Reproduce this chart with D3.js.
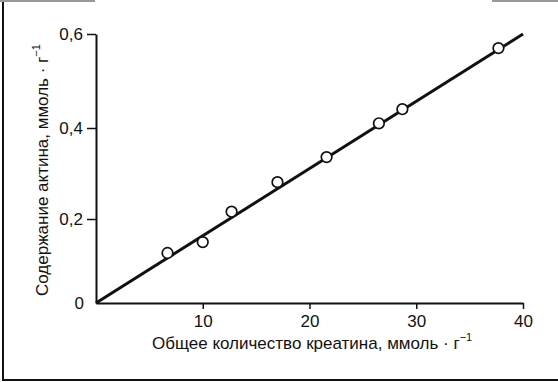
<!DOCTYPE html>
<html>
<head>
<meta charset="utf-8">
<script src="https://cdn.jsdelivr.net/npm/d3@7"></script>
<style>
  body { margin: 0; background: #fff; }
  svg { display: block; }
  text { font-family: Arial, "Liberation Sans", Helvetica, sans-serif; fill: #111; }
</style>
</head>
<body>
<svg id="chart"></svg>
<script>
// data
const creatine = [6.7, 10.0, 12.7, 17.0, 21.6, 26.5, 28.7, 37.7]
const actin = [0.119, 0.145, 0.216, 0.281, 0.336, 0.41, 0.44, 0.57]
const fitLine = [[0, 0], [40, 0.6]]
const xTicks = [10, 20, 30, 40]
const yTicks = [0, 0.2, 0.4, 0.6]
const xTitle = 'Общее количество креатина, ммоль · г'
const yTitle = 'Содержание актина, ммоль · г'

const width = 558, height = 382

const svg = d3.select('#chart')
  .attr('width', width)
  .attr('height', height)

// scanned frame
svg.append('line').attr('x1', 3).attr('x2', 3).attr('y1', 0).attr('y2', 381)
  .attr('stroke', '#111').attr('stroke-width', 2)
svg.append('line').attr('x1', 2).attr('x2', 558).attr('y1', 380).attr('y2', 380)
  .attr('stroke', '#111').attr('stroke-width', 2)
svg.append('line').attr('x1', 0).attr('x2', 95).attr('y1', 1).attr('y2', 1)
  .attr('stroke', '#999').attr('stroke-width', 2)
svg.append('line').attr('x1', 492).attr('x2', 558).attr('y1', 1).attr('y2', 1)
  .attr('stroke', '#999').attr('stroke-width', 2)

// x scale
const x = d3.scaleLinear()
  .domain([0, 40])
  .range([96, 523])

// y scale (the scanned figure is slightly uneven, so use the tick positions)
const y = d3.scaleLinear()
  .domain(yTicks)
  .range([303, 219, 128, 34])

const fmt = d => String(d).replace('.', ',')

// x axis
const gx = svg.append('g')
  .attr('transform', 'translate(0,' + y(0) + ')')
  .call(d3.axisBottom(x).tickValues(xTicks).tickSize(6).tickSizeOuter(0).tickPadding(6))
gx.select('.domain').attr('stroke', '#111').attr('stroke-width', 2)
gx.selectAll('.tick line').attr('stroke', '#111').attr('stroke-width', 1.5)
gx.selectAll('.tick text').attr('font-size', 17).attr('fill', '#111')
  .attr('font-family', 'Arial, "Liberation Sans", sans-serif')

// y axis
const gy = svg.append('g')
  .attr('transform', 'translate(' + x(0) + ',0)')
  .call(d3.axisLeft(y).tickValues(yTicks).tickFormat(fmt).tickSize(9).tickSizeOuter(0).tickPadding(4))
gy.select('.domain').attr('stroke', '#111').attr('stroke-width', 2)
gy.selectAll('.tick line').attr('stroke', '#111').attr('stroke-width', 1.5)
  .attr('opacity', d => d === 0 ? 0 : 1)
gy.selectAll('.tick text').attr('font-size', 17).attr('fill', '#111')
  .attr('font-family', 'Arial, "Liberation Sans", sans-serif')
  .attr('x', d => d === 0 ? -12 : -13)

// fitted line
const line = d3.line().x(d => x(d[0])).y(d => y(d[1]))
svg.append('path')
  .datum(fitLine)
  .attr('d', line)
  .attr('fill', 'none')
  .attr('stroke', '#111')
  .attr('stroke-width', 3)

// points
svg.append('g')
  .selectAll('circle')
  .data(creatine)
  .join('circle')
  .attr('cx', d => x(d))
  .attr('cy', (d, i) => y(actin[i]))
  .attr('r', 5.3)
  .attr('fill', '#fff')
  .attr('stroke', '#111')
  .attr('stroke-width', 1.7)

// axis titles
const xt = svg.append('text')
  .attr('x', 152)
  .attr('y', 349)
  .attr('font-size', 17)
xt.append('tspan').text(xTitle)
xt.append('tspan').text('−1').attr('font-size', 11).attr('dy', -8)

const yt = svg.append('text')
  .attr('transform', 'translate(48,296) rotate(-90)')
  .attr('font-size', 17)
yt.append('tspan').text(yTitle)
yt.append('tspan').text('−1').attr('font-size', 11).attr('dy', -8)
</script>
</body>
</html>
